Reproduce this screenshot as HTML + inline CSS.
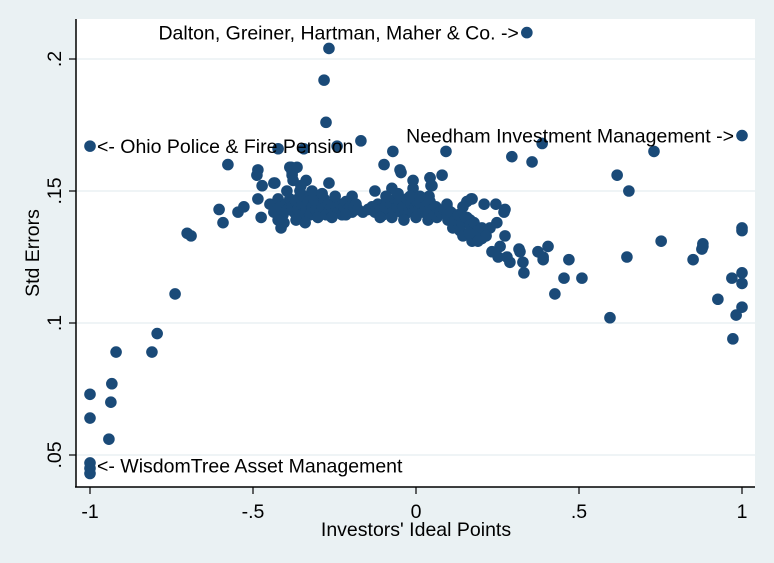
<!DOCTYPE html>
<html><head><meta charset="utf-8"><style>
html,body{margin:0;padding:0;background:#eaf1f3;}
svg{display:block;font-family:"Liberation Sans",Arial,sans-serif;}
</style></head><body>
<svg id="chart" width="774" height="563">
<rect x="0" y="0" width="774" height="563" fill="#eaf1f3"/>
<rect x="76" y="19" width="679" height="468" fill="#ffffff"/>
<g id="grid"></g>
<g id="pts"></g>
<g id="axes"></g>
<g id="labels"></g>
</svg>
<script>
const xs=[.340,-1,1,-1,-1,-1,-1,-1,-.933,-.936,-.942,-.920,-.810,-.794,-.739,-.702,-.690,-.604,-.592,-.577,-.546,-.528,-.488,-.485,-.472,-.475,-.433,-.423,-.383,-.380,-.362,-.344,-.267,-.282,-.276,-.169,-.242,-.071,-.098,-.049,-.046,.092,.080,.294,.356,.387,-.436,-.387,-.380,-.377,-.365,-.337,-.353,-.267,.043,.046,-.009,-.009,-.074,-.126,-.196,-.199,-.485,-.414,-.163,.209,.245,.270,.156,.172,.144,.095,.037,.040,.730,.617,.653,.043,.049,.034,.043,.095,.104,.098,.169,.273,.227,.248,.273,.233,.258,.252,.279,.288,.316,.319,.328,.331,.374,.390,.390,.405,.469,.454,.509,.426,.595,.647,.752,.850,.880,.880,.877,1,1,.969,1,1,.926,1,.982,.972,.037,.064,.113,.135,.144,.172,.181,.202,.166,.156,
-.448,-.436,-.423,-.417,-.408,-.399,-.393,-.387,-.380,-.374,-.368,-.362,-.356,-.350,-.344,-.337,-.331,-.325,-.319,-.313,-.307,-.301,-.294,-.288,-.282,-.276,-.270,-.264,-.258,-.252,-.245,-.239,-.233,-.227,-.221,-.215,-.209,-.202,-.196,-.190,-.184,-.178,-.215,-.258,-.301,-.368,-.405,-.356,-.319,-.396,-.288,-.248,-.340,-.423,
-.147,-.135,-.126,-.117,-.110,-.101,-.095,-.089,-.083,-.077,-.071,-.064,-.058,-.052,-.046,-.040,-.034,-.028,-.021,-.015,-.009,-.003,.003,.009,.015,.021,.028,.034,-.018,-.055,-.092,.012,-.037,-.074,-.110,0,.037,.052,.061,.074,.086,.095,.107,.120,.129,.141,.153,.166,.178,.190,.202,.215,.190,.163];
const ys=[.210,.167,.171,.047,.045,.043,.064,.073,.077,.070,.056,.089,.089,.096,.111,.134,.133,.143,.138,.160,.142,.144,.156,.158,.152,.140,.153,.166,.159,.156,.147,.166,.204,.192,.176,.169,.167,.165,.160,.158,.157,.165,.156,.163,.161,.168,.153,.159,.157,.154,.159,.154,.152,.153,.155,.152,.154,.151,.151,.150,.148,.147,.147,.136,.142,.145,.145,.142,.146,.147,.144,.145,.145,.148,.165,.156,.150,.155,.152,.147,.146,.144,.141,.139,.147,.143,.136,.138,.133,.127,.129,.125,.125,.123,.128,.127,.123,.119,.127,.125,.124,.129,.124,.117,.117,.111,.102,.125,.131,.124,.130,.129,.128,.136,.135,.117,.119,.115,.109,.106,.103,.094,.139,.140,.136,.135,.133,.131,.134,.132,.139,.140,
.145,.142,.147,.144,.141,.145,.143,.147,.144,.142,.146,.143,.141,.145,.148,.143,.146,.141,.144,.147,.143,.145,.142,.144,.147,.141,.145,.143,.142,.145,.144,.142,.145,.141,.144,.146,.143,.144,.142,.144,.145,.143,.141,.140,.140,.139,.138,.150,.150,.150,.149,.148,.138,.139,
.143,.144,.142,.145,.143,.141,.144,.147,.143,.145,.142,.147,.144,.146,.142,.144,.141,.147,.143,.145,.142,.144,.146,.143,.145,.142,.144,.146,.148,.149,.148,.148,.139,.140,.140,.140,.141,.143,.144,.142,.143,.141,.142,.139,.141,.138,.140,.137,.138,.135,.136,.133,.131,.134];
const xTickVals=[-1,-.5,0,.5,1];
const xTickLabels=["-1","-.5","0",".5","1"];
const yTickVals=[.2,.15,.1,.05];
const yTickLabels=[".2",".15",".1",".05"];
const annX=[.340,-1,1,-1];
const annY=[.210,.167,.171,.046];
const annText=["Dalton, Greiner, Hartman, Maher & Co. ->","<- Ohio Police & Fire Pension","Needham Investment Management ->","<- WisdomTree Asset Management"];
const annSide=["left","right","left","right"];

const NS="http://www.w3.org/2000/svg";
function sx(v){return 416+v*326;}
function sy(v){return 455-(v-0.05)*2640;}
function mk(t,a,p){const e=document.createElementNS(NS,t);for(const k in a)e.setAttribute(k,a[k]);p.appendChild(e);return e;}
const grid=document.getElementById('grid'),pts=document.getElementById('pts'),axes=document.getElementById('axes'),lab=document.getElementById('labels');
yTickVals.forEach(v=>{const l=mk('line',{x1:76,x2:755,y1:sy(v),y2:sy(v),stroke:'#eaf1f3','stroke-width':1.5},grid);

});
xs.forEach((x,i)=>{const c=mk('circle',{cx:sx(x),cy:sy(ys[i]),r:5.8,fill:'#1a4a78'},pts);

});
const ya=mk('line',{x1:76,x2:76,y1:19,y2:487,stroke:'#000','stroke-width':1.5},axes);


const xa=mk('line',{x1:75,x2:755,y1:487,y2:487,stroke:'#000','stroke-width':1.5},axes);


xTickVals.forEach((v,i)=>{const t=mk('line',{x1:sx(v),x2:sx(v),y1:487,y2:494,stroke:'#000','stroke-width':1.2},axes);


const tx=mk('text',{x:sx(v),y:518,'text-anchor':'middle','font-size':19.5,fill:'#000'},axes);tx.textContent=xTickLabels[i];

});
yTickVals.forEach((v,i)=>{const t=mk('line',{x1:69,x2:76,y1:sy(v),y2:sy(v),stroke:'#000','stroke-width':1.2},axes);


const tx=mk('text',{x:0,y:0,transform:`translate(61,${sy(v)}) rotate(-90)`,'text-anchor':'middle','font-size':19.5,fill:'#000'},axes);tx.textContent=yTickLabels[i];

});
const xt=mk('text',{x:416,y:536,'text-anchor':'middle','font-size':19.5,fill:'#000'},axes);xt.textContent="Investors' Ideal Points";


const yt=mk('text',{x:0,y:0,transform:'translate(39,253) rotate(-90)','text-anchor':'middle','font-size':19.5,fill:'#000'},axes);yt.textContent="Std Errors";


annText.forEach((s,i)=>{const right=annSide[i]==='right';
const t=mk('text',{x:sx(annX[i])+(right?7:-8),y:sy(annY[i])+7,'text-anchor':right?'start':'end','font-size':19.5,fill:'#000'},lab);t.textContent=s;

});
</script>
</body></html>
